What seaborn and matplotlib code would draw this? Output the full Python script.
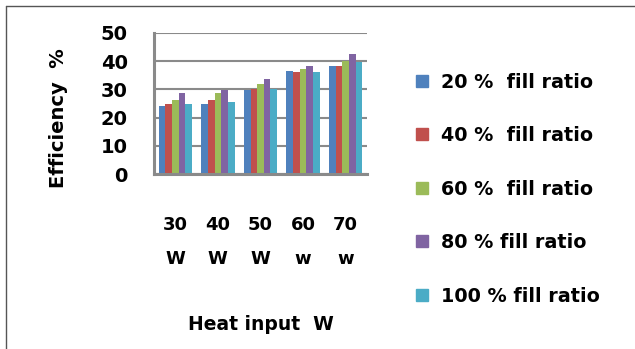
import matplotlib
matplotlib.use("Agg")
import matplotlib.pyplot as plt
import seaborn as sns
import pandas as pd
from matplotlib.lines import Line2D

categories = ["30\nW", "40\nW", "50\nW", "60\nw", "70\nw"]
series_names = ["20 %  fill ratio", "40 %  fill ratio", "60 %  fill ratio",
                "80 % fill ratio", "100 % fill ratio"]
fill20 = [24.2, 24.8, 29.9, 36.7, 38.4]
fill40 = [24.8, 26.3, 30.2, 36.0, 38.4]
fill60 = [26.3, 28.7, 31.9, 37.3, 39.9]
fill80 = [28.7, 29.9, 33.6, 38.4, 42.4]
fill100 = [24.8, 25.7, 30.1, 36.0, 39.8]
yticks = [0, 10, 20, 30, 40, 50]
colors = ["#4F81BD", "#C0504D", "#9BBB59", "#8064A2", "#4BACC6"]

rows = []
for name, vals in zip(series_names, [fill20, fill40, fill60, fill80, fill100]):
    for c, v in zip(categories, vals):
        rows.append({"cat": c, "series": name, "value": v})
df = pd.DataFrame(rows)

sns.set_style("white")
plt.rcParams["font.family"] = ["DejaVu Sans"]
plt.rcParams["text.color"] = "black"
plt.rcParams["xtick.color"] = "black"
plt.rcParams["ytick.color"] = "black"
plt.rcParams["axes.labelcolor"] = "black"

fig = plt.figure(figsize=(6.35, 3.49), dpi=100)
ax = fig.add_axes([154/635, 1-174/349, (367-154)/635, (174-33)/349])
sns.barplot(data=df, x="cat", y="value", hue="series", palette=colors,
            width=0.78, ax=ax, legend=False, saturation=1, linewidth=0)

ax.set_ylim(0, 50)
ax.set_yticks(yticks)
ax.set_xlim(-0.5, 4.5)
ax.yaxis.grid(True, color="#8a8a8a", linewidth=1.5)
ax.set_axisbelow(True)
for s in ["top", "right"]:
    ax.spines[s].set_visible(False)
for s in ["left", "bottom"]:
    ax.spines[s].set_color("#8a8a8a")
    ax.spines[s].set_linewidth(2.2)
ax.tick_params(axis="y", length=0, pad=19, labelsize=14, colors="black")
ax.tick_params(axis="x", length=0, pad=30, labelsize=13, colors="black")
for lbl in ax.get_yticklabels() + ax.get_xticklabels():
    lbl.set_fontweight("bold")
for lbl in ax.get_xticklabels():
    lbl.set_linespacing(2.15)
ax.set_xlabel("Heat input  W", fontsize=13.5, fontweight="bold", color="black")
ax.xaxis.set_label_coords(0.5, -1.0)
ax.set_ylabel("Efficiency  %", fontsize=14, fontweight="bold", color="black")
ax.yaxis.label.set_va("center")
ax.yaxis.set_label_coords(-0.45, 0.397)

handles = [Line2D([0], [0], marker="s", linestyle="none", markersize=8,
                  markerfacecolor=c, markeredgecolor=c) for c in colors]
leg = fig.legend(handles, series_names, loc="upper left",
                 bbox_to_anchor=(403/635, 1-63/349), frameon=False,
                 prop={"size": 13.8, "weight": "bold"}, labelspacing=1.8,
                 handletextpad=0.5, handlelength=1.0, borderpad=0)
for t in leg.get_texts():
    t.set_color("black")

# outer frame lines
fig.add_artist(Line2D([6/635, 6/635], [0, 1-6/349], transform=fig.transFigure,
                      color="#555555", linewidth=1))
fig.add_artist(Line2D([6/635, 1], [1-6/349, 1-6/349], transform=fig.transFigure,
                      color="#555555", linewidth=1))

fig.savefig("out.png", dpi=100)
